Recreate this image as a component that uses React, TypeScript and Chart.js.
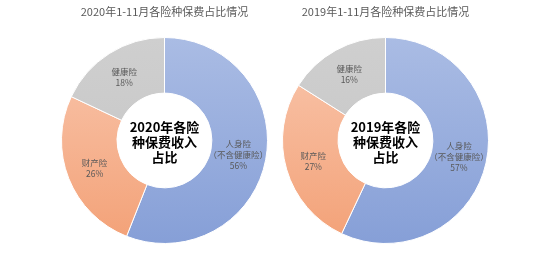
import React, { useEffect, useRef } from "react";
import { Chart, registerables } from "chart.js";

Chart.register(...registerables);

const categories = ["人身险", "财产险", "健康险"];
const categoryNotes = ["（不含健康险）", "", ""];
const values2020 = [56, 26, 18];
const values2019 = [57, 27, 16];
const titles = ["2020年1-11月各险种保费占比情况", "2019年1-11月各险种保费占比情况"];
const centerTexts = [
  ["2020年各险", "种保费收入", "占比"],
  ["2019年各险", "种保费收入", "占比"],
];

const FONT = "'Noto Sans CJK SC', 'Noto Sans', sans-serif";
const gradStops = [
  ["#aabce4", "#869fd7"],
  ["#f9c7ae", "#f3a177"],
  ["#cfcfcf", "#c4c4c4"],
];

function makeChart(
  canvas: HTMLCanvasElement,
  values: number[],
  title: string,
  center: string[],
  padding: { left: number; right: number; top: number; bottom: number }
) {
  const overlay = {
    id: "overlay",
    afterDraw(chart: any) {
      const ctx = chart.ctx;
      const a = chart.chartArea;
      const cx = (a.left + a.right) / 2;
      const cy = (a.top + a.bottom) / 2;
      ctx.save();
      // title
      ctx.fillStyle = "#595959";
      ctx.font = `11px ${FONT}`;
      ctx.textAlign = "center";
      ctx.textBaseline = "middle";
      ctx.fillText(title, cx, 12);
      // slice labels
      const meta = chart.getDatasetMeta(0);
      ctx.font = `8.5px ${FONT}`;
      meta.data.forEach((arc: any, i: number) => {
        const p = arc.tooltipPosition();
        const lines = [categories[i]];
        if (categoryNotes[i]) lines.push(categoryNotes[i]);
        lines.push(values[i] + "%");
        const lh = 11;
        const y0 = p.y - ((lines.length - 1) * lh) / 2;
        lines.forEach((t, k) => ctx.fillText(t, p.x, y0 + k * lh));
      });
      // center text
      ctx.fillStyle = "#000000";
      ctx.font = `bold 13px ${FONT}`;
      const lh2 = 15;
      const y1 = cy + 2 - lh2;
      center.forEach((t, k) => ctx.fillText(t, cx, y1 + k * lh2));
      ctx.restore();
    },
  };

  return new Chart(canvas, {
    type: "doughnut",
    data: {
      labels: categories,
      datasets: [
        {
          data: values,
          backgroundColor: (c: any) => {
            const area = c.chart.chartArea;
            if (!area) return gradStops[c.dataIndex][0];
            const g = c.chart.ctx.createLinearGradient(0, area.top, 0, area.bottom);
            g.addColorStop(0, gradStops[c.dataIndex][0]);
            g.addColorStop(1, gradStops[c.dataIndex][1]);
            return g;
          },
          borderColor: "#ffffff",
          borderWidth: 1,
        },
      ],
    },
    options: {
      responsive: false,
      animation: false,
      cutout: "46%",
      layout: { padding },
      plugins: {
        legend: { display: false },
        tooltip: { enabled: false },
        title: { display: false },
      },
    },
    plugins: [overlay],
  });
}

export default function App() {
  const leftRef = useRef<HTMLCanvasElement>(null);
  const rightRef = useRef<HTMLCanvasElement>(null);

  useEffect(() => {
    document.body.style.margin = "0";
    const c1 = makeChart(leftRef.current!, values2020, titles[0], centerTexts[0], {
      left: 61,
      right: 7,
      top: 37,
      bottom: 19,
    });
    const c2 = makeChart(rightRef.current!, values2019, titles[1], centerTexts[1], {
      left: 7,
      right: 61,
      top: 37,
      bottom: 19,
    });
    return () => {
      c1.destroy();
      c2.destroy();
    };
  }, []);

  return (
    <div style={{ position: "relative", width: 550, height: 263, background: "#ffffff" }}>
      <canvas ref={leftRef} width={275} height={263} style={{ position: "absolute", left: 0, top: 0 }} />
      <canvas ref={rightRef} width={275} height={263} style={{ position: "absolute", left: 275, top: 0 }} />
    </div>
  );
}
